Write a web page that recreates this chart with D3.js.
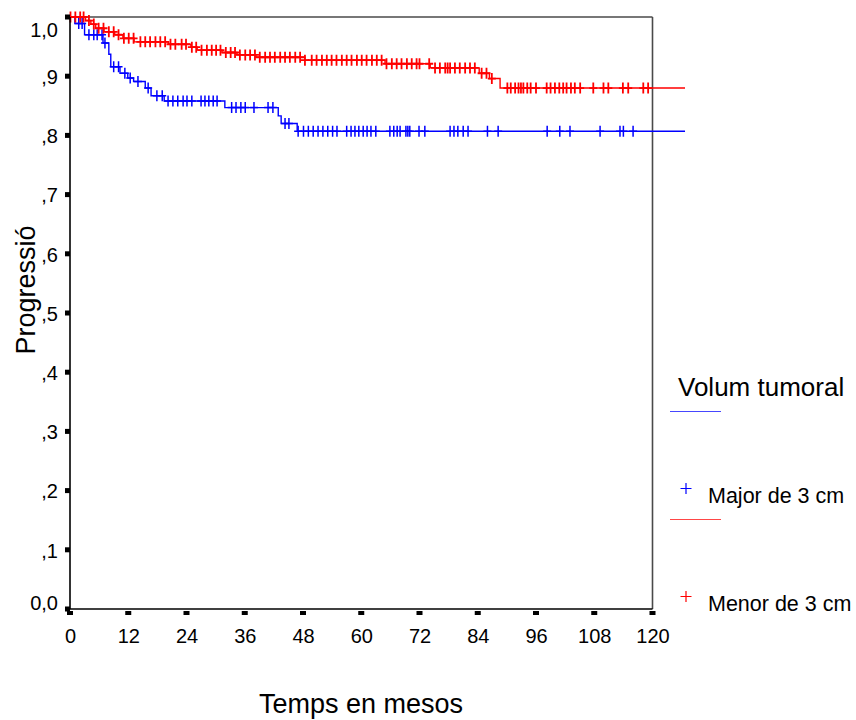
<!DOCTYPE html>
<html>
<head>
<meta charset="utf-8">
<script src="https://cdn.jsdelivr.net/npm/d3@7"></script>
<style>
  html, body { margin: 0; padding: 0; background: #fff; }
  text { font-family: "Liberation Sans", Arial, sans-serif; fill: #000; }
</style>
</head>
<body>
<svg id="chart" width="856" height="720"></svg>
<script>
// Kaplan-Meier steps: [month, survival after the event]
const majorSteps = [
  [0, 1.000], [1.0, 0.989], [3.0, 0.970], [6.8, 0.956], [8.0, 0.937],
  [8.4, 0.916], [10.3, 0.905], [11.9, 0.897], [13.1, 0.891], [15.5, 0.880],
  [16.7, 0.867], [19.4, 0.858], [31.9, 0.847], [42.9, 0.833], [43.5, 0.820],
  [46.8, 0.807]
];
const majorCensored = [
  1.8, 2.5, 3.9, 4.9, 5.6, 6.6, 7.2, 9.0, 10.0, 11.3, 12.4, 14.0, 16.1, 17.9,
  19.0, 20.2, 21.2, 22.2, 23.3, 24.1, 25.1, 27.0, 27.8, 28.6, 29.5, 30.3,
  33.3, 34.2, 35.2, 36.1, 37.9, 40.8, 41.8, 44.3, 45.1, 47.0, 48.1, 49.1,
  50.1, 51.1, 52.1, 53.1, 54.1, 55.0, 57.0, 57.9, 58.7, 59.5, 60.4, 61.2,
  62.0, 63.0, 65.9, 66.7, 67.4, 68.0, 69.2, 69.6, 70.0, 71.9, 73.1, 78.3,
  79.1, 79.9, 81.0, 82.0, 86.0, 88.2, 98.3, 100.9, 103.0, 109.2, 113.3,
  114.0, 116.0
];

const menorSteps = [
  [0, 1.000], [3.2, 0.994], [4.3, 0.988], [5.3, 0.981], [7.0, 0.975],
  [9.2, 0.970], [10.9, 0.964], [13.2, 0.958], [20.3, 0.954], [24.9, 0.949],
  [26.2, 0.944], [31.3, 0.940], [34.4, 0.936], [38.3, 0.932], [48.4, 0.927],
  [64.9, 0.921], [74.2, 0.914], [84.3, 0.905], [86.4, 0.896], [88.6, 0.880]
];
const menorCensored = [
  0.1, 1.1, 2.1, 2.8, 3.9, 4.9, 5.9, 6.9, 8.0, 9.0, 10.0, 11.1, 12.1, 13.1,
  14.5, 15.5, 16.5, 17.6, 18.6, 19.6, 20.7, 21.7, 23.0, 23.9, 25.1, 26.0,
  27.1, 28.2, 29.2, 30.1, 31.0, 32.1, 33.1, 34.0, 35.0, 36.1, 37.1, 38.1,
  39.1, 40.2, 41.2, 42.2, 43.3, 44.3, 45.3, 46.4, 47.4, 48.4, 49.8, 50.8,
  51.9, 52.9, 53.9, 54.9, 56.0, 57.0, 58.0, 59.1, 60.1, 61.1, 62.2, 63.2,
  64.2, 65.2, 66.3, 67.3, 68.3, 69.4, 70.4, 71.4, 72.0, 74.0, 75.2, 76.2,
  77.3, 77.8, 78.3, 79.3, 80.3, 81.4, 82.4, 83.4, 84.8, 85.8, 86.9, 90.1,
  90.8, 91.7, 92.4, 92.9, 93.4, 94.2, 94.9, 96.0, 98.2, 99.0, 99.9, 100.8,
  101.6, 102.3, 103.2, 104.0, 105.1, 107.8, 109.9, 110.9, 113.9, 115.0,
  118.1, 119.1
];

const maxFollowUp = 126.7; // both curves run on past the frame
const xTicks = [0, 12, 24, 36, 48, 60, 72, 84, 96, 108, 120];
const yTicks = [0, 0.1, 0.2, 0.3, 0.4, 0.5, 0.6, 0.7, 0.8, 0.9, 1.0];
const yTickLabels = ["0,0", ",1", ",2", ",3", ",4", ",5", ",6", ",7", ",8", ",9", "1,0"];

const groups = [
  { name: "Major de 3 cm", color: "#0000ff", legendLine: "#4646ff", steps: majorSteps, censored: majorCensored },
  { name: "Menor de 3 cm", color: "#ff0000", legendLine: "#ff4646", steps: menorSteps, censored: menorCensored }
];

const svg = d3.select("#chart");
const x = d3.scaleLinear().domain([0, 120]).range([70, 652.5]);
const y = d3.scaleLinear().domain([0, 1]).range([609, 17]);

// frame: top and right grey, left and bottom black
svg.append("line").attr("x1", x(0)).attr("x2", x(120)).attr("y1", y(1)).attr("y2", y(1))
  .attr("stroke", "#4a4a4a").attr("stroke-width", 1.3);
svg.append("line").attr("x1", x(120)).attr("x2", x(120)).attr("y1", y(1)).attr("y2", y(0))
  .attr("stroke", "#4a4a4a").attr("stroke-width", 1.6);

// curves
function survivalAt(steps, t) {
  let v = steps[0][1];
  steps.forEach(s => { if (s[0] <= t) v = s[1]; });
  return v;
}

groups.forEach(g => {
  const pts = g.steps.concat([[maxFollowUp, g.steps[g.steps.length - 1][1]]]);
  const line = d3.line().x(d => x(d[0])).y(d => y(d[1])).curve(d3.curveStepAfter);
  svg.append("path")
    .attr("d", line(pts))
    .attr("fill", "none")
    .attr("stroke", g.color)
    .attr("stroke-width", 1.4);

  svg.append("g").selectAll("path")
    .data(g.censored)
    .join("path")
    .attr("d", t => {
      const cx = x(t), cy = y(survivalAt(g.steps, t));
      return `M${cx - 4},${cy}H${cx + 4}M${cx},${cy - 5.5}V${cy + 5.5}`;
    })
    .attr("stroke", g.color)
    .attr("stroke-width", g.color === "#ff0000" ? 1.8 : 1.5)
    .attr("fill", "none");
});

// axes
svg.append("line").attr("x1", x(0)).attr("x2", x(0)).attr("y1", y(1)).attr("y2", y(0))
  .attr("stroke", "#000").attr("stroke-width", 1.6);
svg.append("line").attr("x1", x(0)).attr("x2", x(120)).attr("y1", y(0)).attr("y2", y(0))
  .attr("stroke", "#000").attr("stroke-width", 1.6);

const yAxis = svg.append("g")
  .attr("transform", "translate(58,0)")
  .call(d3.axisLeft(y).tickValues(yTicks).tickSize(0).tickPadding(0)
    .tickFormat((d, i) => yTickLabels[i]));
yAxis.select(".domain").remove();
yAxis.selectAll("text")
  .attr("font-family", "Liberation Sans, Arial, sans-serif")
  .attr("font-size", 20)
  .attr("fill", "#000")
  .attr("dy", (d, i) => i === yTicks.length - 1 ? "0.95em" : (i === 0 ? "0em" : "0.36em"));

svg.append("g").selectAll("rect")
  .data(yTicks)
  .join("rect")
  .attr("x", 65).attr("y", d => y(d) - 2.5)
  .attr("width", 5).attr("height", 5)
  .attr("fill", "#000");

const xAxis = svg.append("g")
  .attr("transform", "translate(0,629)")
  .call(d3.axisBottom(x).tickValues(xTicks).tickSize(0).tickPadding(0));
xAxis.select(".domain").remove();
xAxis.selectAll("text")
  .attr("font-family", "Liberation Sans, Arial, sans-serif")
  .attr("font-size", 20)
  .attr("fill", "#000")
  .attr("dy", "0.71em");

svg.append("g").selectAll("rect")
  .data(xTicks)
  .join("rect")
  .attr("x", d => x(d) - 3).attr("y", 611)
  .attr("width", 6).attr("height", 4)
  .attr("fill", "#000");

// axis titles
svg.append("text")
  .attr("transform", "translate(35,290) rotate(-90)")
  .attr("text-anchor", "middle")
  .attr("font-size", 27)
  .text("Progressió");

svg.append("text")
  .attr("x", 361).attr("y", 713)
  .attr("text-anchor", "middle")
  .attr("font-size", 27)
  .text("Temps en mesos");

// legend
svg.append("text")
  .attr("x", 678).attr("y", 396)
  .attr("font-size", 26)
  .text("Volum tumoral");

const legendY = [411.5, 519.5];
groups.forEach((g, i) => {
  const ly = legendY[i];
  svg.append("line")
    .attr("x1", 670).attr("x2", 721).attr("y1", ly).attr("y2", ly)
    .attr("stroke", g.legendLine).attr("stroke-width", 1);
  const py = ly + 77;
  svg.append("path")
    .attr("d", `M680.5,${py}H691.5M686,${py - 5.5}V${py + 5.5}`)
    .attr("stroke", g.color).attr("stroke-width", 1.2);
  svg.append("text")
    .attr("x", 708).attr("y", ly + 91.5)
    .attr("font-size", 21.5)
    .text(g.name);
});
</script>
</body>
</html>
